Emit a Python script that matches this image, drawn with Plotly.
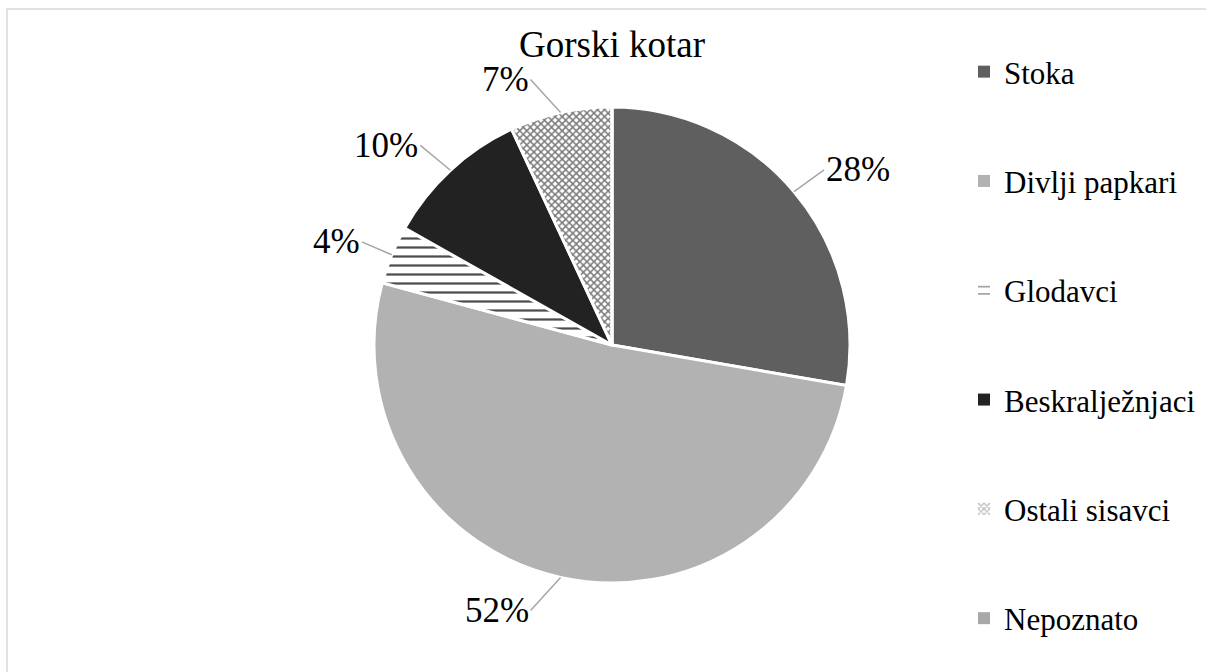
import math
import plotly.graph_objects as go

# ---- data ----
categories = ["Stoka", "Divlji papkari", "Glodavci", "Beskralježnjaci", "Ostali sisavci", "Nepoznato"]
shares = [28, 52, 4, 10, 7, 0]
pct_labels = ["28%", "52%", "4%", "10%", "7%", ""]
chart_title = "Gorski kotar"

# ---- styles ----
colors = ["#5f5f5f", "#b2b2b2", "#ffffff", "#222222", "#ffffff", "#a8a8a8"]
pat_shapes = ["", "", "-", "", "x", ""]
pat_fg = ["#5f5f5f", "#b2b2b2", "#4d4d4d", "#222222", "#7a7a7a", "#a8a8a8"]
pat_bg = colors
pat_size = [8, 8, 9, 8, 5, 8]
pat_sol = [0.3, 0.3, 0.25, 0.3, 0.5, 0.3]
FONT = "'Times New Roman', 'Liberation Serif', 'DejaVu Serif', serif"
W, H = 1206, 672
dom_x = [0.3101, 0.7048]
dom_y = [0.1324, 0.8408]

fig = go.Figure()
fig.add_trace(go.Pie(
    labels=categories, values=shares, sort=False, direction="clockwise", rotation=0,
    marker=dict(colors=colors,
                pattern=dict(shape=pat_shapes, fgcolor=pat_fg, bgcolor=pat_bg,
                             size=pat_size, solidity=pat_sol),
                line=dict(color="white", width=3)),
    textinfo="none", hoverinfo="label+percent", showlegend=False,
    domain=dict(x=dom_x, y=dom_y),
))

# legend entries via dummy bars (allows large spacing)
for i, c in enumerate(categories):
    fig.add_trace(go.Bar(
        x=[None], y=[None], name=c, legendgroup=f"g{i}",
        marker=dict(color=colors[i],
                    pattern=dict(shape=pat_shapes[i], fgcolor=pat_fg[i], bgcolor=pat_bg[i],
                                 size=pat_size[i], solidity=pat_sol[i]),
                    line=dict(width=0)),
        showlegend=True,
    ))

# percentage labels with leader lines, positioned from slice angles
total = sum(shares)
cx = (dom_x[0] + dom_x[1]) / 2
cy = (dom_y[0] + dom_y[1]) / 2
r_px = min((dom_x[1] - dom_x[0]) * W, (dom_y[1] - dom_y[0]) * H) / 2
h_gap, v_gap = 30, 34
cum = 0.0
for v, t in zip(shares, pct_labels):
    mid = (cum + v / 2) / total * 2 * math.pi
    cum += v
    if v == 0:
        continue
    sx, sy = math.sin(mid), math.cos(mid)
    side = 1 if sx >= 0 else -1
    fig.add_annotation(
        x=cx + r_px * sx / W, y=cy + r_px * sy / H, xref="paper", yref="paper",
        text=t, showarrow=True, arrowhead=0, arrowwidth=1.5, arrowcolor="#a6a6a6",
        ax=side * h_gap, ay=-v_gap * sy, standoff=0,
        xanchor="left" if side > 0 else "right", yanchor="middle",
        font=dict(family=FONT, size=35, color="black"),
    )

fig.add_shape(type="rect", xref="paper", yref="paper",
              x0=7 / W, x1=1.01, y0=-0.01, y1=1 - 9 / H,
              line=dict(color="#d9d9d9", width=1.5), layer="below")

fig.update_layout(
    width=W, height=H,
    margin=dict(l=0, r=0, t=0, b=0),
    paper_bgcolor="white", plot_bgcolor="white",
    title=dict(text=chart_title, x=0.5075, xanchor="center", y=1 - 44 / H, yanchor="middle",
               font=dict(family=FONT, size=37, color="black")),
    xaxis=dict(visible=False), yaxis=dict(visible=False),
    legend=dict(x=964 / W, xanchor="left", y=1 - 45 / H, yanchor="top",
                font=dict(family=FONT, size=31, color="black"),
                tracegroupgap=66, itemsizing="constant", bgcolor="rgba(0,0,0,0)"),
)

fig.write_html("out.html", config={"displayModeBar": False},
               post_script="document.body.style.margin='0px';document.body.style.overflow='hidden';")
